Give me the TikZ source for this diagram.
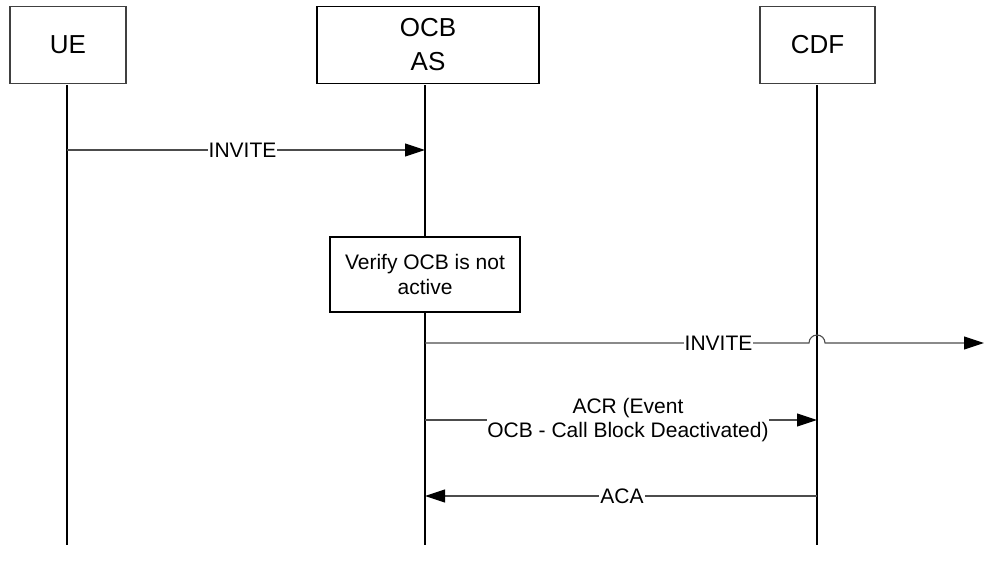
\documentclass[tikz,border=0pt]{standalone}
\usepackage{fontspec}
\setmainfont{Liberation Sans}
\usetikzlibrary{arrows.meta}
\begin{document}
\begin{tikzpicture}[x=1pt,y=-1pt,
  actor/.style={draw=black!75, line width=1.3pt, minimum height=77pt, font=\fontsize{26}{34}\selectfont, align=center, inner sep=0pt},
  life/.style={line width=1.1pt, draw=black},
  msg/.style={draw=black!70, line width=1.1pt, -{Triangle[length=20pt,width=13pt,color=black]}},
  lbl/.style={fill=white, inner xsep=1pt, inner ysep=1pt, font=\fontsize{21}{24}\selectfont, align=center},
  procbox/.style={draw=black, fill=white, line width=1.4pt, minimum width=190pt, minimum height=75pt, font=\fontsize{21}{25}\selectfont, align=center, inner sep=0pt},
]
\useasboundingbox (0,0) rectangle (984,573);
% actors
\node[actor, minimum width=116pt] (ue) at (68,45) {UE};
\node[actor, draw=black, minimum width=222pt] (ocb) at (428,45) {OCB\\AS};
\node[actor, minimum width=115pt] (cdf) at (817.5,45) {CDF};
% lifeline ends
\coordinate (ueTop) at (67,85);   \coordinate (ueBot) at (67,545);
\coordinate (asTop) at (425,85);  \coordinate (asBot) at (425,545);
\coordinate (cdfTop) at (817,85); \coordinate (cdfBot) at (817,545);
\draw[life] (ueTop) -- (ueBot);
\draw[life] (asTop) -- (asBot);
\draw[life] (cdfTop) -- (cdfBot);
% message points
\coordinate (m1s) at (67,150);  \coordinate (m1e) at (425,150);
\coordinate (m2s) at (425,343); \coordinate (m2j) at (809,343); \coordinate (m2e) at (984,343);
\coordinate (m3s) at (425,420); \coordinate (m3e) at (817,420);
\coordinate (m4s) at (817,496); \coordinate (m4e) at (425,496);
% process box
\node[procbox] (verify) at (425,274.5) {Verify OCB is not\\active};
% messages
\draw[msg] (m1s) -- (m1e);
\node[lbl] (l1) at (242.5,150) {INVITE};
\draw[msg] (m2s) -- (m2j) arc[start angle=180, end angle=0, radius=8pt] -- (m2e);
\node[lbl] (l2) at (718.5,343) {INVITE};
\draw[msg] (m3s) -- (m3e);
\node[lbl, inner xsep=0pt] (l3) at (628,420) {ACR (Event\\OCB - Call Block Deactivated)};
\draw[msg] (m4s) -- (m4e);
\node[lbl] (l4) at (622,496) {ACA};
\end{tikzpicture}
\end{document}
